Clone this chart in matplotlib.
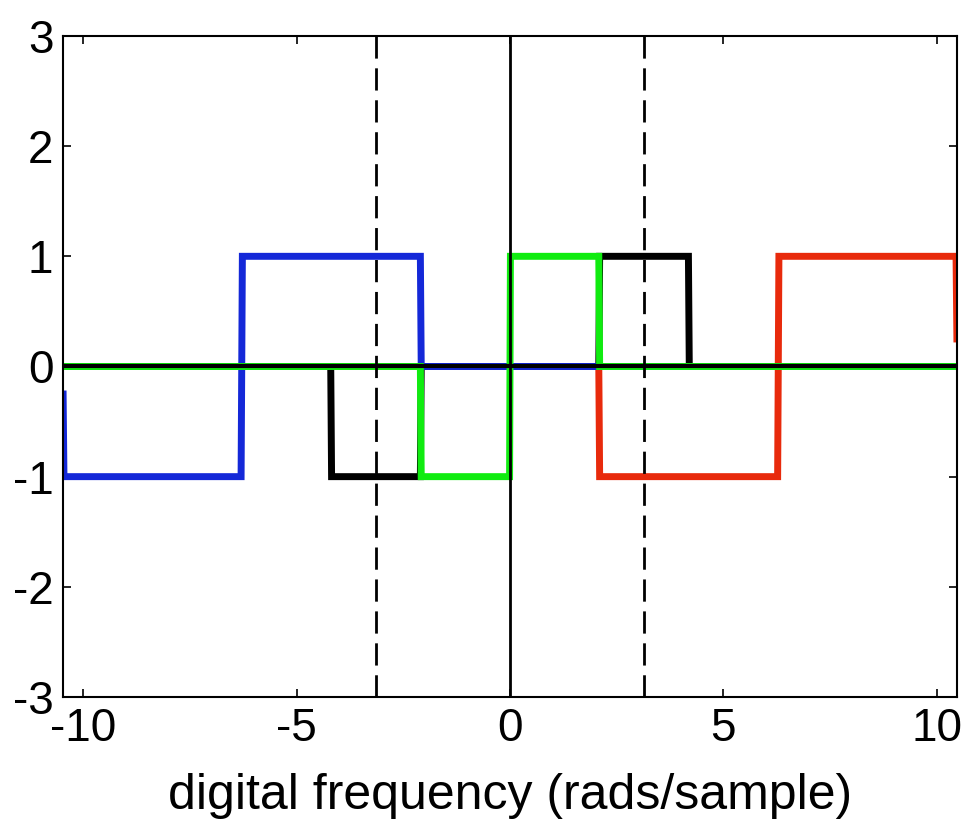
import numpy as np
import matplotlib
matplotlib.use("Agg")
import matplotlib.pyplot as plt

plt.rcParams['font.family'] = ['Liberation Sans', 'DejaVu Sans']
plt.rcParams['axes.unicode_minus'] = False

# frequency limits (rads/sample)
x_lim = 10 * np.pi / 3

# piecewise-constant spectra, sampled at the breakpoints
blue_x = [-10.47, -10.45, -6.30, -6.27, -2.10, -2.08, 10.47]
blue_y = [-0.25, -1, -1, 1, 1, 0, 0]

red_x = [-10.47, 2.08, 2.10, 6.27, 6.30, 10.45, 10.47]
red_y = [0, 0, -1, -1, 1, 1, 0.25]

black_x = [-10.47, -4.20, -4.18, -2.10, -2.08, 2.08, 2.10, 4.18, 4.20, 10.47]
black_y = [0, 0, -1, -1, 0, 0, 1, 1, 0, 0]

green_x = [-10.47, -2.10, -2.08, -0.01, 0.01, 2.08, 2.10, 10.47]
green_y = [0, 0, -1, -1, 1, 1, 0, 0]

# folding frequencies
nyq = [-np.pi, np.pi]

x_ticks = [-10, -5, 0, 5, 10]
y_ticks = [-3, -2, -1, 0, 1, 2, 3]

fig = plt.figure(figsize=(9.65, 8.35), dpi=100)
ax = fig.add_axes([0.0653, 0.1653, 0.9264, 0.7916])

lw = 5
ax.plot(red_x, red_y, color='#e82a0c', linewidth=lw, solid_joinstyle='miter')
ax.plot(black_x, black_y, color='black', linewidth=lw, solid_joinstyle='miter')
ax.plot(blue_x, blue_y, color='#1428d8', linewidth=lw, solid_joinstyle='miter')
ax.plot(green_x, green_y, color='#10ec10', linewidth=lw, solid_joinstyle='miter')

ax.axhline(0, color='black', linewidth=3)
ax.axvline(0, color='black', linewidth=2)
for xv in nyq:
    ax.axvline(xv, color='black', linewidth=2, linestyle=(0, (8, 3.5)))

ax.set_xlim(-x_lim, x_lim)
ax.set_ylim(-3, 3)
ax.set_xticks(x_ticks)
ax.set_yticks(y_ticks)
ax.tick_params(direction='in', length=6, width=1.2, top=True, right=True,
               labelsize=33, pad=7)
for s in ax.spines.values():
    s.set_linewidth(1.5)

ax.set_xlabel('digital frequency (rads/sample)', fontsize=36, labelpad=16)

fig.savefig('out.png', dpi=100)
